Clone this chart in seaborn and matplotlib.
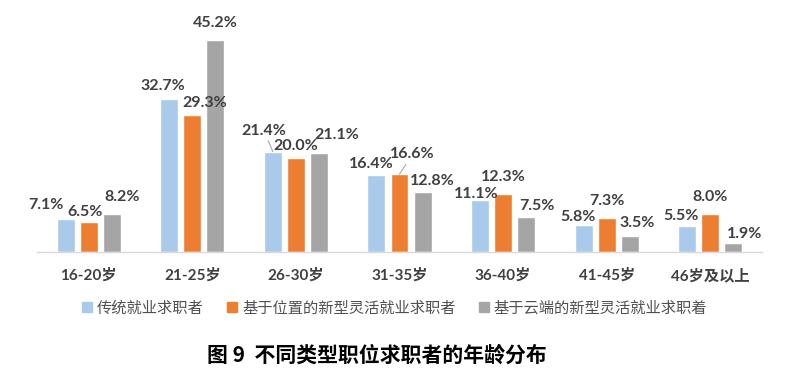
import matplotlib
matplotlib.use("Agg")
import matplotlib.pyplot as plt
import seaborn as sns
import pandas as pd
from matplotlib.lines import Line2D

categories = ["16-20岁", "21-25岁", "26-30岁", "31-35岁", "36-40岁", "41-45岁", "46岁及以上"]
series_names = ["传统就业求职者", "基于位置的新型灵活就业求职者", "基于云端的新型灵活就业求职着"]
traditional = [7.1, 32.7, 21.4, 16.4, 11.1, 5.8, 5.5]
location_based = [6.5, 29.3, 20.0, 16.6, 12.3, 7.3, 8.0]
cloud_based = [8.2, 45.2, 21.1, 12.8, 7.5, 3.5, 1.9]
title_text = "图 9  不同类型职位求职者的年龄分布"

colors = ["#A9CAEA", "#ED7D31", "#A5A5A5"]

# label offsets (pixels) relative to bar top centre, and leader-line flags
label_offsets = [
    [(-20, 14), (-6, 13), (-9, 21), (-5, 11), (-4, 6), (-6, 8), (-6, 10)],
    [(-4, 10), (12, 12), (0, 12), (13, 20), (0, 17), (0, 17), (0, 17)],
    [(10, 17), (0, 17), (18, 18), (10, 11), (11, 11), (8, 13), (11, 9)],
]
leaders = [
    [False, False, True, False, False, False, False],
    [False, False, False, True, False, False, False],
    [False] * 7,
]

sns.set_theme(style="white")
plt.rcParams["font.family"] = ["Lato", "Noto Sans CJK SC", "DejaVu Sans"]

rows = []
for name, vals in zip(series_names, [traditional, location_based, cloud_based]):
    for c, v in zip(categories, vals):
        rows.append({"age": c, "series": name, "value": v})
df = pd.DataFrame(rows)

fig = plt.figure(figsize=(8.02, 3.77), dpi=100)
ax = fig.add_axes([37 / 802, 1 - 252 / 377, 725 / 802, 234.5 / 377])

sns.barplot(data=df, x="age", y="value", hue="series", order=categories,
            hue_order=series_names, palette=colors, width=0.667, gap=0.22,
            saturation=1, ax=ax, legend=False, errorbar=None)

ax.set_ylim(0, 50)
ax.set_xlim(-0.5, len(categories) - 0.5)
for s in ["top", "right", "left"]:
    ax.spines[s].set_visible(False)
ax.spines["bottom"].set_color("#D9D9D9")
ax.spines["bottom"].set_linewidth(1.0)
ax.set_yticks([])
ax.set_xlabel("")
ax.set_ylabel("")
ax.tick_params(axis="x", length=0, pad=12)
for lab in ax.get_xticklabels():
    lab.set_fontweight("bold")
    lab.set_fontsize(11)
    lab.set_color("#404040")
    lab.set_family(["Lato", "Noto Sans CJK SC"])

for si, cont in enumerate(ax.containers):
    for ci, bar in enumerate(cont):
        h = bar.get_height()
        xc = bar.get_x() + bar.get_width() / 2
        dx, dy = label_offsets[si][ci]
        kw = {}
        if leaders[si][ci]:
            kw["arrowprops"] = dict(arrowstyle="-", color="#A6A6A6", lw=0.8,
                                    shrinkA=0, shrinkB=0)
        ax.annotate(f"{h:.1f}%", xy=(xc, h), xytext=(dx, dy),
                    textcoords="offset pixels", ha="center", va="center",
                    fontsize=11.5, fontweight="bold", color="#404040",
                    family=["Lato", "DejaVu Sans"], annotation_clip=False, **kw)

handles = [Line2D([0], [0], marker="s", linestyle="none", markersize=6.5,
                  markerfacecolor=c, markeredgecolor=c) for c in colors]
fig.legend(handles, series_names, loc="center", bbox_to_anchor=(0.492, 1 - 308 / 377),
           ncol=3, frameon=False, handlelength=0.7, handletextpad=0.3,
           columnspacing=1.5, labelcolor="#505050",
           prop={"family": ["Noto Sans CJK SC"], "size": 11})

fig.text(0.47, 1 - 355 / 377, title_text, ha="center", va="center",
         fontsize=15, fontweight="bold", color="black",
         family=["Noto Sans CJK SC", "DejaVu Sans"])

fig.savefig("out.png", dpi=100)
